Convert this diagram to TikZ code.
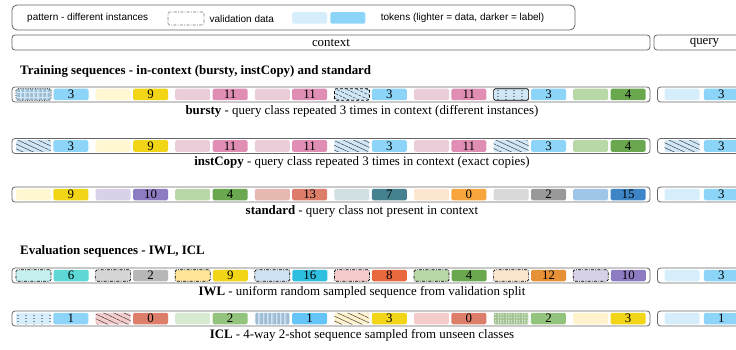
\documentclass[tikz,border=0pt]{standalone}
\usepackage{fontspec}
\setmainfont{Liberation Serif}
\newfontfamily\legendsans{Liberation Sans}
\usetikzlibrary{positioning, patterns.meta}

% token colours (light = data, dark = label)
\definecolor{qblue}{HTML}{D6EEFC}
\definecolor{lblue}{HTML}{CFE7F7}
\definecolor{mblue}{HTML}{8DD5F8}
\definecolor{yelL}{HTML}{FFF6D2}
\definecolor{yelD}{HTML}{F2D516}
\definecolor{pinkL}{HTML}{EBCDD9}
\definecolor{pinkD}{HTML}{E08EB3}
\definecolor{grnL}{HTML}{B8D8A8}
\definecolor{grnD}{HTML}{6AA84F}
\definecolor{purL}{HTML}{D8D1E8}
\definecolor{purD}{HTML}{8E7CC3}
\definecolor{salL}{HTML}{E6B8AF}
\definecolor{salD}{HTML}{DD7E6B}
\definecolor{tealL}{HTML}{D0E0E3}
\definecolor{tealD}{HTML}{45818E}
\definecolor{orgL}{HTML}{FDE6CF}
\definecolor{orgD}{HTML}{F6A63C}
\definecolor{gryL}{HTML}{D9D9D9}
\definecolor{gryD}{HTML}{999999}
\definecolor{bluL}{HTML}{9FC5E8}
\definecolor{bluD}{HTML}{3D85C6}
\definecolor{cyanL}{HTML}{C6F0EF}
\definecolor{cyanD}{HTML}{5ED8D4}
\definecolor{gry2L}{HTML}{D6D6D6}
\definecolor{gry2D}{HTML}{B7B7B7}
\definecolor{yel2L}{HTML}{FFE599}
\definecolor{skyL}{HTML}{CFE2F3}
\definecolor{skyD}{HTML}{2EBEE0}
\definecolor{rosL}{HTML}{F4CCCC}
\definecolor{redD}{HTML}{E8693D}
\definecolor{peachL}{HTML}{FCE5CD}
\definecolor{peachD}{HTML}{E69138}
\definecolor{grn3L}{HTML}{D9EAD3}
\definecolor{grn3D}{HTML}{93C47D}
\definecolor{brblue}{HTML}{66C5F8}
\definecolor{yel3L}{HTML}{FFF2CC}
\definecolor{vlinecol}{HTML}{9DBBD2}
\definecolor{gridcol}{HTML}{A5C495}

\newcommand\seqfont{\fontsize{12.9}{13.5}\selectfont}
\newcommand\legfont{\legendsans\fontsize{10}{10.5}\selectfont}

\tikzdeclarepattern{
  name=vdots,
  type=uncolored,
  bottom left={(-.1pt,-.1pt)},
  top right={(8.1pt,3.1pt)},
  tile size={(8pt,3pt)},
  code={\fill (2pt,1.5pt) circle (0.55pt);}
}

\tikzset{
  tok/.style={rectangle, rounded corners=1.5pt, minimum width=35pt, minimum height=11.5pt, inner sep=0pt, font=\seqfont},
  patplain/.style={fill=#1},
  pathatch/.style={preaction={fill=#1}, pattern={Lines[angle=-25,distance=4.3pt,line width=0.5pt]}, pattern color=black!75},
  patdots/.style={preaction={fill=#1}, pattern=vdots, pattern color=black!80},
  patvlines/.style={preaction={fill=#1}, pattern={Lines[angle=90,distance=1.3pt,line width=0.4pt]}, pattern color=vlinecol},
  patgrid/.style={preaction={fill=#1}, pattern={Hatch[angle=0,distance=1.6pt,line width=0.35pt]}, pattern color=gridcol},
  nobord/.style={draw=none},
  dotbord/.style={draw=black, densely dotted, line width=0.7pt},
  dashbord/.style={draw=black, densely dashed, line width=0.7pt},
  solidbord/.style={draw=black, line width=0.7pt},
  valbord/.style={draw=black, line width=0.7pt, dash pattern=on 3pt off 1.3pt on 0.8pt off 1.3pt},
  seqbox/.style={draw=black!60, rounded corners=3pt, line width=0.8pt, minimum height=15pt, inner sep=0pt, font=\seqfont},
  caption/.style={font=\seqfont, inner sep=0pt},
  title/.style={font=\seqfont\bfseries, anchor=west, inner sep=0pt},
  legtext/.style={font=\legfont, inner sep=0pt}
}

\begin{document}
\begin{tikzpicture}[x=1pt, y=-1pt]

  \useasboundingbox (0,0) rectangle (736,350);
  \clip (0,0) rectangle (736,350);

  % legend
  \node (legend) [draw=black!60, rounded corners=5pt, line width=0.8pt, minimum width=563pt, minimum height=25pt] at (293.5,17.5) {};
  \node (leg-pat) [legtext, anchor=west] at (27,18) {pattern - different instances};
  \node (leg-val) [tok, draw=black!55, line width=0.6pt, dash pattern=on 3pt off 1.3pt on 0.8pt off 1.3pt, minimum width=36pt, minimum height=13pt] at (186,18.5) {};
  \node (leg-valtxt) [legtext, right=5pt of leg-val] {validation data};
  \node (leg-data) [tok, fill=qblue] at (309.5,18) {};
  \node (leg-label) [tok, fill=mblue, right=3pt of leg-data] {};
  \node (leg-tok) [legtext, right=15pt of leg-label] {tokens (lighter = data, darker = label)};

  % headers
  \node (context) [seqbox, minimum width=638pt] at (331,42.5) {context};
  \node (query) [seqbox, minimum width=101pt] at (704.5,42.5) {query};

  \node (train-title) [title] at (20,71) {Training sequences - in-context (bursty, instCopy) and standard};

  % bursty
  \node (bursty) [seqbox, minimum width=638pt] at (331,94.5) {};
  \foreach \pat/\dc/\bd/\lc/\n [count=\i] in {patvlines/lblue/dotbord/mblue/3, patplain/yelL/nobord/yelD/9,
      patplain/pinkL/nobord/pinkD/11, patplain/pinkL/nobord/pinkD/11, pathatch/lblue/dashbord/mblue/3,
      patplain/pinkL/nobord/pinkD/11, patdots/lblue/solidbord/mblue/3, patplain/grnL/nobord/grnD/4}{
    \node (bursty-d\i) [tok, \pat=\dc, \bd] at ({33.5+79.6*(\i-1)},94.5) {};
    \node (bursty-l\i) [tok, fill=\lc, right=2pt of bursty-d\i] {\n};
  }
  \node (bursty-q) [seqbox, minimum width=97pt] at (706,94.5) {};
  \node (bursty-qd) [tok, fill=qblue] at (682,94.5) {};
  \node (bursty-ql) [tok, fill=mblue, right=4pt of bursty-qd] {3};
  \node (bursty-cap) [caption, below=2.5pt of bursty, xshift=31pt] {\textbf{bursty} - query class repeated 3 times in context (different instances)};

  % instCopy
  \node (instcopy) [seqbox, minimum width=638pt] at (331,146) {};
  \foreach \pat/\dc/\bd/\lc/\n [count=\i] in {pathatch/lblue/nobord/mblue/3, patplain/yelL/nobord/yelD/9,
      patplain/pinkL/nobord/pinkD/11, patplain/pinkL/nobord/pinkD/11, pathatch/lblue/nobord/mblue/3,
      patplain/pinkL/nobord/pinkD/11, pathatch/lblue/nobord/mblue/3, patplain/grnL/nobord/grnD/4}{
    \node (instcopy-d\i) [tok, \pat=\dc, \bd] at ({33.5+79.6*(\i-1)},146) {};
    \node (instcopy-l\i) [tok, fill=\lc, right=2pt of instcopy-d\i] {\n};
  }
  \node (instcopy-q) [seqbox, minimum width=97pt] at (706,146) {};
  \node (instcopy-qd) [tok, pathatch=lblue] at (682,146) {};
  \node (instcopy-ql) [tok, fill=mblue, right=4pt of instcopy-qd] {3};
  \node (instcopy-cap) [caption, below=2.5pt of instcopy, xshift=31pt] {\textbf{instCopy} - query class repeated 3 times in context (exact copies)};

  % standard
  \node (standard) [seqbox, minimum width=638pt] at (331,194.5) {};
  \foreach \dc/\lc/\n [count=\i] in {yelL/yelD/9, purL/purD/10, grnL/grnD/4, salL/salD/13,
      tealL/tealD/7, orgL/orgD/0, gryL/gryD/2, bluL/bluD/15}{
    \node (standard-d\i) [tok, fill=\dc] at ({33.5+79.6*(\i-1)},194.5) {};
    \node (standard-l\i) [tok, fill=\lc, right=2pt of standard-d\i] {\n};
  }
  \node (standard-q) [seqbox, minimum width=97pt] at (706,194.5) {};
  \node (standard-qd) [tok, fill=qblue] at (682,194.5) {};
  \node (standard-ql) [tok, fill=mblue, right=4pt of standard-qd] {3};
  \node (standard-cap) [caption, below=2.5pt of standard, xshift=31pt] {\textbf{standard} - query class not present in context};

  \node (eval-title) [title] at (20,251) {Evaluation sequences - IWL, ICL};

  % IWL
  \node (iwl) [seqbox, minimum width=638pt] at (331,275.5) {};
  \foreach \dc/\lc/\n [count=\i] in {cyanL/cyanD/6, gry2L/gry2D/2, yel2L/yelD/9, skyL/skyD/16,
      rosL/redD/8, grnL/grnD/4, peachL/peachD/12, purL/purD/10}{
    \node (iwl-d\i) [tok, fill=\dc, valbord] at ({33.5+79.6*(\i-1)},275.5) {};
    \node (iwl-l\i) [tok, fill=\lc, right=2pt of iwl-d\i] {\n};
  }
  \node (iwl-q) [seqbox, minimum width=97pt] at (706,275.5) {};
  \node (iwl-qd) [tok, fill=qblue] at (682,275.5) {};
  \node (iwl-ql) [tok, fill=mblue, right=4pt of iwl-qd] {3};
  \node (iwl-cap) [caption, below=2.5pt of iwl, xshift=31pt] {\textbf{IWL} - uniform random sampled sequence from validation split};

  % ICL
  \node (icl) [seqbox, minimum width=638pt] at (331,318.5) {};
  \foreach \pat/\dc/\lc/\n [count=\i] in {patdots/qblue/mblue/1, pathatch/rosL/salD/0, patplain/grn3L/grn3D/2,
      patvlines/skyL/brblue/1, pathatch/yel3L/yelD/3, patplain/rosL/salD/0, patgrid/grn3L/grn3D/2,
      patplain/yel3L/yelD/3}{
    \node (icl-d\i) [tok, \pat=\dc] at ({33.5+79.6*(\i-1)},318.5) {};
    \node (icl-l\i) [tok, fill=\lc, right=2pt of icl-d\i] {\n};
  }
  \node (icl-q) [seqbox, minimum width=97pt] at (706,318.5) {};
  \node (icl-qd) [tok, fill=qblue] at (682,318.5) {};
  \node (icl-ql) [tok, fill=mblue, right=4pt of icl-qd] {1};
  \node (icl-cap) [caption, below=2.5pt of icl, xshift=31pt] {\textbf{ICL} - 4-way 2-shot sequence sampled from unseen classes};

\end{tikzpicture}
\end{document}
